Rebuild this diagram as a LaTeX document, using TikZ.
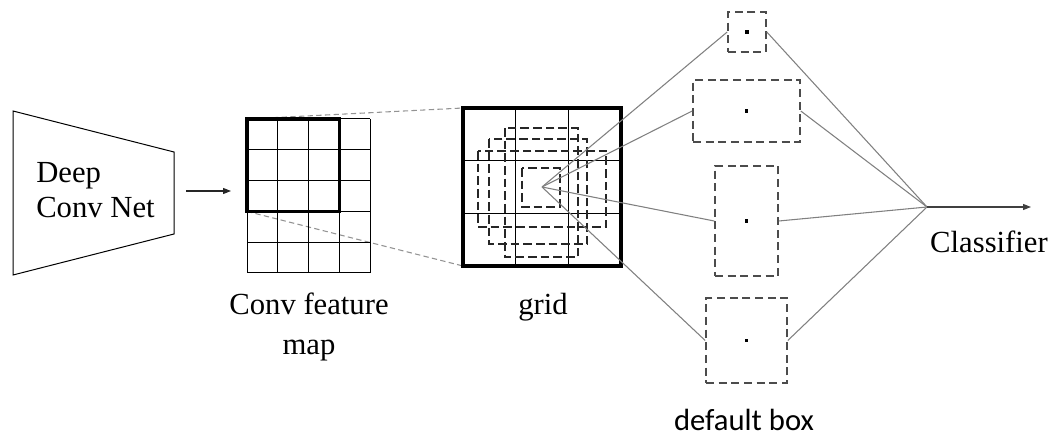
\documentclass[tikz,border=0pt]{standalone}
\usepackage{fontspec}
\setmainfont{Liberation Serif}
\newfontfamily\labelsans{Carlito}
\usetikzlibrary{arrows.meta}
\begin{document}
\begin{tikzpicture}[x=0.75pt,y=-0.75pt,
  lbl/.style={inner sep=0pt,font=\fontsize{23}{30}\selectfont},
  thinline/.style={line width=0.8pt,black!85},
  fmline/.style={line width=0.75pt},
  bold/.style={line width=2.4pt},
  zoomline/.style={gray!85,line width=0.8pt,dash pattern=on 4pt off 2.5pt},
  gridbox/.style={black!85,line width=1.2pt,dash pattern=on 6.5pt off 3pt},
  dbox/.style={draw=black!70,line width=1.2pt,dash pattern=on 6pt off 3.5pt,inner sep=0pt},
  ray/.style={gray,line width=0.8pt},
  dot/.style={fill=black,inner sep=0pt,minimum size=2.8pt}]
\useasboundingbox (0,0) rectangle (1054,438);

% backbone network
\draw[fmline] (13,111) -- (174,152) -- (174,234) -- (13,275) -- cycle;
\node[lbl,align=left,anchor=base west,font=\fontsize{23}{26.6}\selectfont] (net) at (36,218) {Deep\\Conv Net};
\coordinate (a1) at (186,191);
\coordinate (a2) at (231,191);
\draw[thinline,-{Triangle[length=6pt,width=4.5pt]}] (a1) -- (a2);

% zoom lines from the selected window to the grid
\coordinate (fmTL) at (247,119);
\coordinate (fmBL) at (247,211.4);
\coordinate (gTL) at (463,108);
\coordinate (gBL) at (463,266);
\draw[zoomline] (fmTL) -- (gTL);
\draw[zoomline] (fmBL) -- (gBL);

% conv feature map (4 x 5 cells)
\foreach \i in {0,...,4} \draw[fmline] (247+\i*30.75,119) -- (247+\i*30.75,273);
\foreach \j in {0,...,5} \draw[fmline] (247,119+\j*30.8) -- (370,119+\j*30.8);
\draw[bold] (fmTL) rectangle (339.25,211.4);
\node[lbl,align=center,anchor=base] (fmlabel) at (309,355) {Conv feature\\map};

% 3 x 3 grid with default boxes
\fill[white] (gTL) rectangle (621,266);
\draw[fmline] (515.7,108) -- (515.7,266) (568.3,108) -- (568.3,266)
              (463,160.7) -- (621,160.7) (463,213.3) -- (621,213.3);
\draw[gridbox] (505,128) rectangle (578,257);
\draw[gridbox] (489,139) rectangle (587,244);
\draw[gridbox] (478,151) rectangle (606,227);
\draw[gridbox] (522,168) rectangle (560,207);
\draw[bold] (gTL) rectangle (621,266);
\node[lbl,anchor=base] (gridlabel) at (543,315) {grid};
\coordinate (gc) at (542,187);

% default boxes
\node[dbox,minimum width=28.5pt,minimum height=30pt] (b1) at (747,32) {};
\node[dbox,minimum width=80.25pt,minimum height=46.5pt] (b2) at (746.5,111) {};
\node[dbox,minimum width=47.25pt,minimum height=82.5pt] (b3) at (746.5,221) {};
\node[dbox,minimum width=60.75pt,minimum height=63.75pt] (b4) at (746.5,340.5) {};
\foreach \b in {b1,b2,b3,b4} \node[dot] at (\b.center) {};
\node[lbl,anchor=base,font=\labelsans\fontsize{23}{28}\selectfont] (dlabel) at (744,431) {default box};

% classifier
\coordinate (cls) at (927,207);
\coordinate (out) at (1031,207);
\foreach \b in {b1,b2,b3,b4} {
  \draw[ray] (gc) -- (\b.west);
  \draw[ray] (\b.east) -- (cls);
}
\draw[ray,black!75,-{Triangle[length=6pt,width=4.5pt]}] (cls) -- (out);
\node[lbl,anchor=base] (clabel) at (989,253) {Classifier};
\end{tikzpicture}
\end{document}
